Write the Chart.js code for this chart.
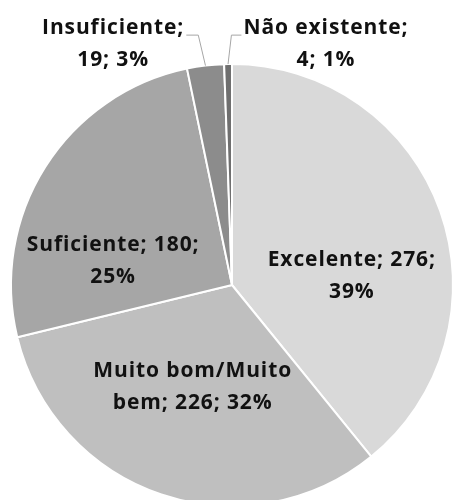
<!DOCTYPE html>
<html>
<head>
<meta charset="utf-8">
<script src="https://cdn.jsdelivr.net/npm/chart.js@4"></script>
<style>
  html, body { margin:0; padding:0; background:#fff; overflow:hidden; }
  #wrap { width:453px; height:500px; overflow:hidden; }
</style>
</head>
<body>
<div id="wrap"><canvas id="pie" width="464" height="510"></canvas></div>
<script>
// data
const categories = ['Excelente', 'Muito bom/Muito bem', 'Suficiente', 'Insuficiente', 'Não existente'];
const counts = [276, 226, 180, 19, 4];
const percents = ['39%', '32%', '25%', '3%', '1%'];
const sliceColors = ['#d9d9d9', '#bfbfbf', '#a6a6a6', '#8c8c8c', '#6f6f6f'];

// label lines, as in the picture
const labelLines = [
  ['Excelente; 276;', '39%'],
  ['Muito bom/Muito', 'bem; 226; 32%'],
  ['Suficiente; 180;', '25%'],
  ['Insuficiente;', '19; 3%'],
  ['Não existente;', '4; 1%']
];
// label block centre, as a fraction of the radius from the pie centre
const labelPlace = [[0.54, -0.04], [-0.18, 0.46], [-0.54, -0.11], [-0.54, -1.09], [0.423, -1.09]];
const hasLeader = [false, false, false, true, true];

const FONT = 'bold 21px "Open Sans", Lato, sans-serif';
const SPACING = 0.9;
const LINE_H = 32;

const labelPlugin = {
  id: 'sliceLabels',
  afterDatasetsDraw(chart){
    const ctx = chart.ctx;
    const arcs = chart.getDatasetMeta(0).data;
    ctx.save();
    ctx.font = FONT;
    ctx.letterSpacing = SPACING + 'px';
    ctx.textAlign = 'left';
    ctx.textBaseline = 'middle';
    const textW = (t)=> ctx.measureText(t).width - SPACING;
    arcs.forEach((arc, i)=>{
      const {x, y, outerRadius, startAngle, endAngle} = arc.getProps(['x','y','outerRadius','startAngle','endAngle'], true);
      const cx = x + labelPlace[i][0] * outerRadius;
      const cy = y + labelPlace[i][1] * outerRadius;
      const lines = labelLines[i];
      const y1 = cy - LINE_H / 2;
      if (hasLeader[i]){
        const mid = (startAngle + endAngle) / 2;
        const px = x + Math.cos(mid) * outerRadius;
        const py = y + Math.sin(mid) * outerRadius;
        const w = textW(lines[0]);
        const right = cx < px;
        const edge = right ? cx + w / 2 + 3 : cx - w / 2 - 2;
        const elbowX = right ? edge + 12 : edge - 10;
        const ly = y1 + 7;
        ctx.strokeStyle = '#a6a6a6';
        ctx.lineWidth = 1;
        ctx.beginPath();
        ctx.moveTo(edge, ly);
        ctx.lineTo(elbowX, ly);
        ctx.lineTo(px, py);
        ctx.stroke();
      }
      ctx.fillStyle = '#111111';
      lines.forEach((t, k)=> ctx.fillText(t, cx - textW(t) / 2, y1 + k * LINE_H));
    });
    ctx.restore();
  }
};

new Chart(document.getElementById('pie'), {
  type: 'pie',
  data: {
    labels: categories,
    datasets: [{
      data: counts,
      backgroundColor: sliceColors,
      borderColor: '#ffffff',
      borderWidth: 2
    }]
  },
  options: {
    responsive: false,
    animation: false,
    layout: { padding: { left: 10, top: 63, right: 10, bottom: 3 } },
    plugins: { legend: { display: false }, tooltip: { enabled: false } }
  },
  plugins: [labelPlugin]
});
</script>
</body>
</html>
